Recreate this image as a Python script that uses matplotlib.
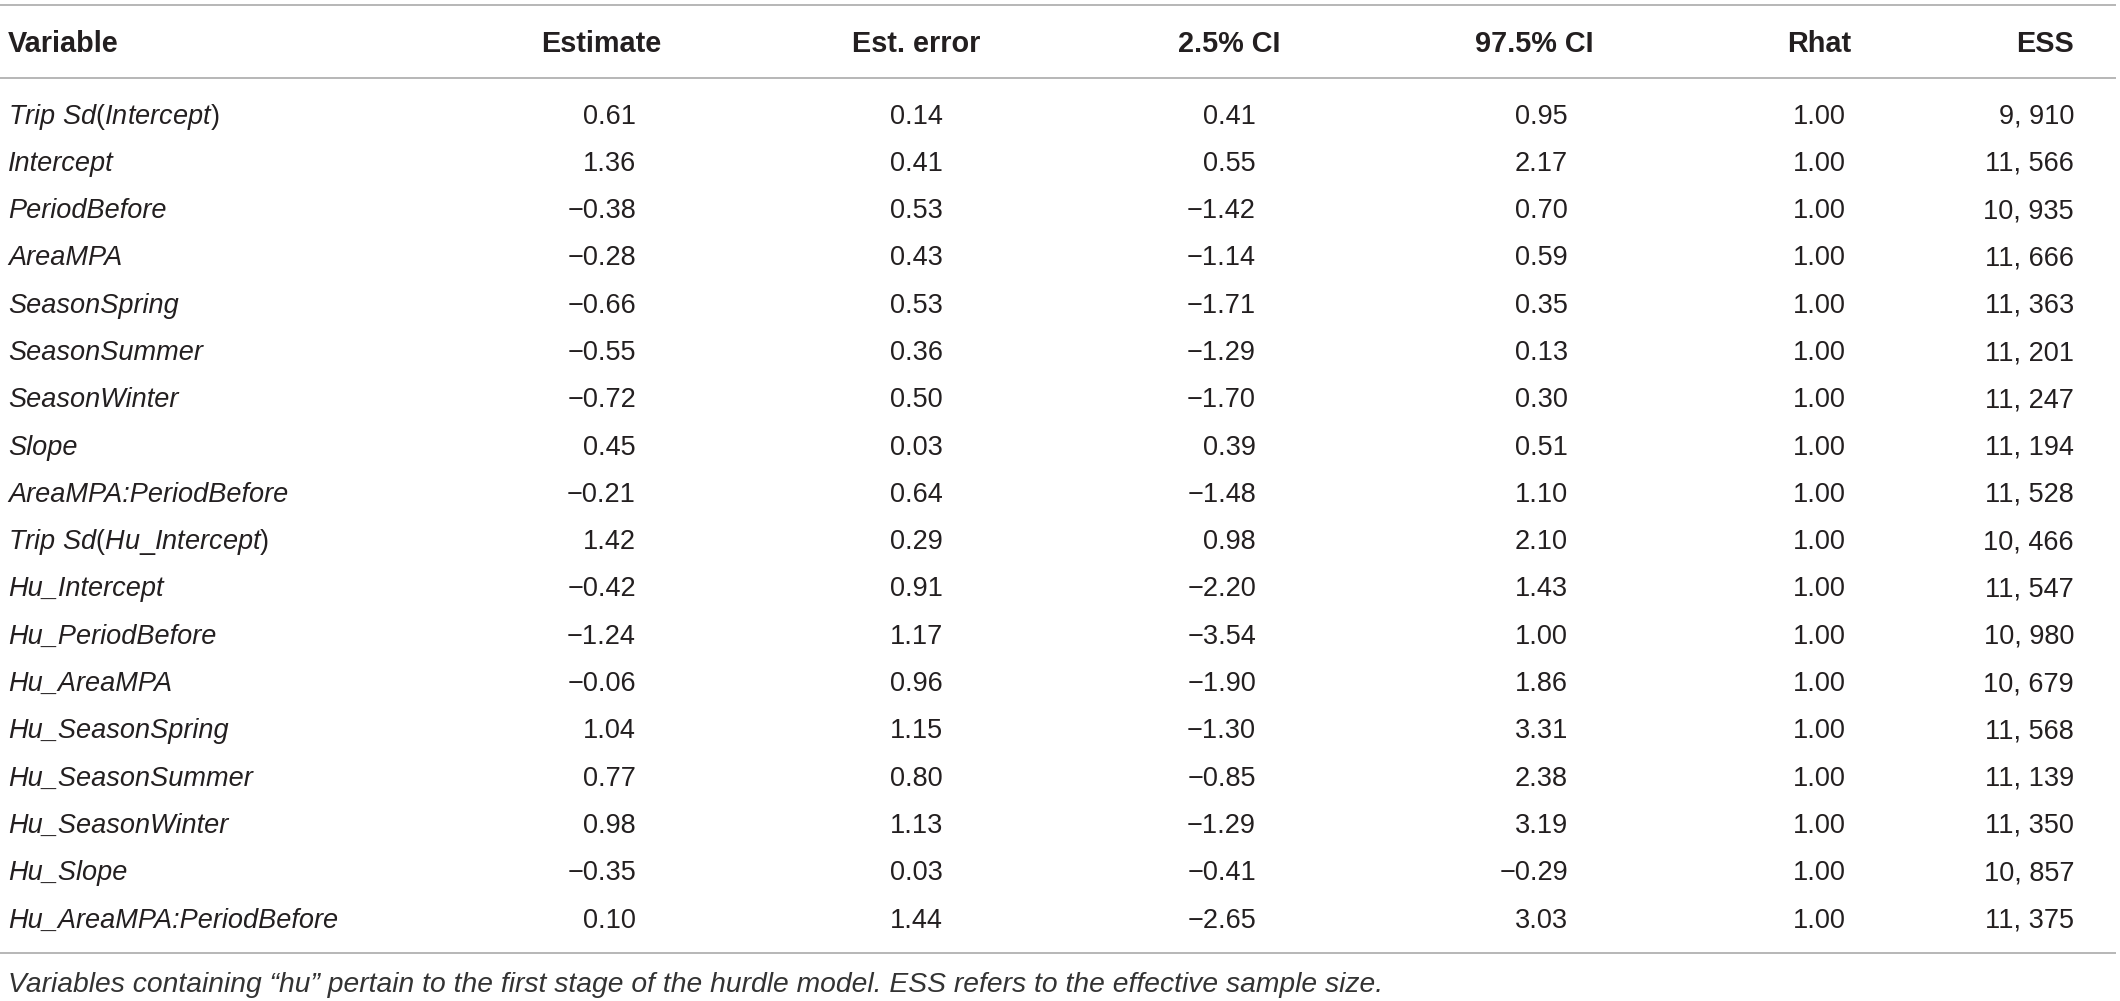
import numpy as np
import matplotlib
matplotlib.use("Agg")
import matplotlib.pyplot as plt

plt.rcParams['font.family'] = ['Liberation Sans', 'DejaVu Sans']
plt.rcParams['mathtext.fontset'] = 'custom'
plt.rcParams['mathtext.rm'] = 'Liberation Sans'
plt.rcParams['mathtext.it'] = 'Liberation Sans:italic'

# table content
headers = ['Variable', 'Estimate', 'Est. error', '2.5% CI', '97.5% CI', 'Rhat', 'ESS']
variables = [
    r'$\mathit{Trip\ Sd}(\mathit{Intercept})$', 'Intercept', 'PeriodBefore', 'AreaMPA',
    'SeasonSpring', 'SeasonSummer', 'SeasonWinter', 'Slope', 'AreaMPA:PeriodBefore',
    r'$\mathit{Trip\ Sd}(\mathit{Hu\_Intercept})$', 'Hu_Intercept', 'Hu_PeriodBefore',
    'Hu_AreaMPA', 'Hu_SeasonSpring', 'Hu_SeasonSummer', 'Hu_SeasonWinter', 'Hu_Slope',
    'Hu_AreaMPA:PeriodBefore',
]
estimate = [0.61, 1.36, -0.38, -0.28, -0.66, -0.55, -0.72, 0.45, -0.21,
            1.42, -0.42, -1.24, -0.06, 1.04, 0.77, 0.98, -0.35, 0.10]
est_error = [0.14, 0.41, 0.53, 0.43, 0.53, 0.36, 0.50, 0.03, 0.64,
             0.29, 0.91, 1.17, 0.96, 1.15, 0.80, 1.13, 0.03, 1.44]
ci_low = [0.41, 0.55, -1.42, -1.14, -1.71, -1.29, -1.70, 0.39, -1.48,
          0.98, -2.20, -3.54, -1.90, -1.30, -0.85, -1.29, -0.41, -2.65]
ci_high = [0.95, 2.17, 0.70, 0.59, 0.35, 0.13, 0.30, 0.51, 1.10,
           2.10, 1.43, 1.00, 1.86, 3.31, 2.38, 3.19, -0.29, 3.03]
rhat = [1.00] * 18
ess = [9910, 11566, 10935, 11666, 11363, 11201, 11247, 11194, 11528,
       10466, 11547, 10980, 10679, 11568, 11139, 11350, 10857, 11375]
footnote = ('Variables containing \u201chu\u201d pertain to the first stage of the '
            'hurdle model. ESS refers to the effective sample size.')


def fmt(v):
    s = f'{abs(v):.2f}'
    return ('\u2212' + s) if v < 0 else s


def fmt_ess(v):
    return f'{v:,}'.replace(',', ', ')


W, H = 2120, 1001
fig = plt.figure(figsize=(W / 100, H / 100), dpi=100)
ax = fig.add_axes([0, 0, 1, 1])
ax.set_xlim(0, W)
ax.set_ylim(H, 0)
ax.axis('off')

txt = '#231f20'
line_c = '#a3a3a3'
fs = 19.5

head_x = [8, 661, 980, 1280, 1594, 1851, 2074]
num_x = [636, 943, 1256, 1568, 1846, 2074]

# rules
for y in [5, 78, 953]:
    ax.plot([0, 2116], [y, y], color=line_c, lw=1.1, solid_capstyle='butt')

# header
head_base = 52
for i, h in enumerate(headers):
    ax.text(head_x[i], head_base, h, ha='left' if i == 0 else 'right', va='baseline',
            fontsize=20.8, fontweight='bold', color=txt)

# rows
cols = [estimate, est_error, ci_low, ci_high, rhat]
row0, step = 123.5, 47.3
for r, name in enumerate(variables):
    yb = row0 + step * r
    ax.text(8, yb, name, ha='left', va='baseline', fontsize=fs,
            fontstyle='italic', color=txt)
    for c, col in enumerate(cols):
        ax.text(num_x[c], yb, fmt(col[r]), ha='right', va='baseline',
                fontsize=fs, color=txt)
    ax.text(num_x[5], yb, fmt_ess(ess[r]), ha='right', va='baseline',
            fontsize=fs, color=txt)

ax.text(8, 992, footnote, ha='left', va='baseline', fontsize=20.3,
        fontstyle='italic', color='#333333')

fig.savefig('out.png', dpi=100, facecolor='white')
